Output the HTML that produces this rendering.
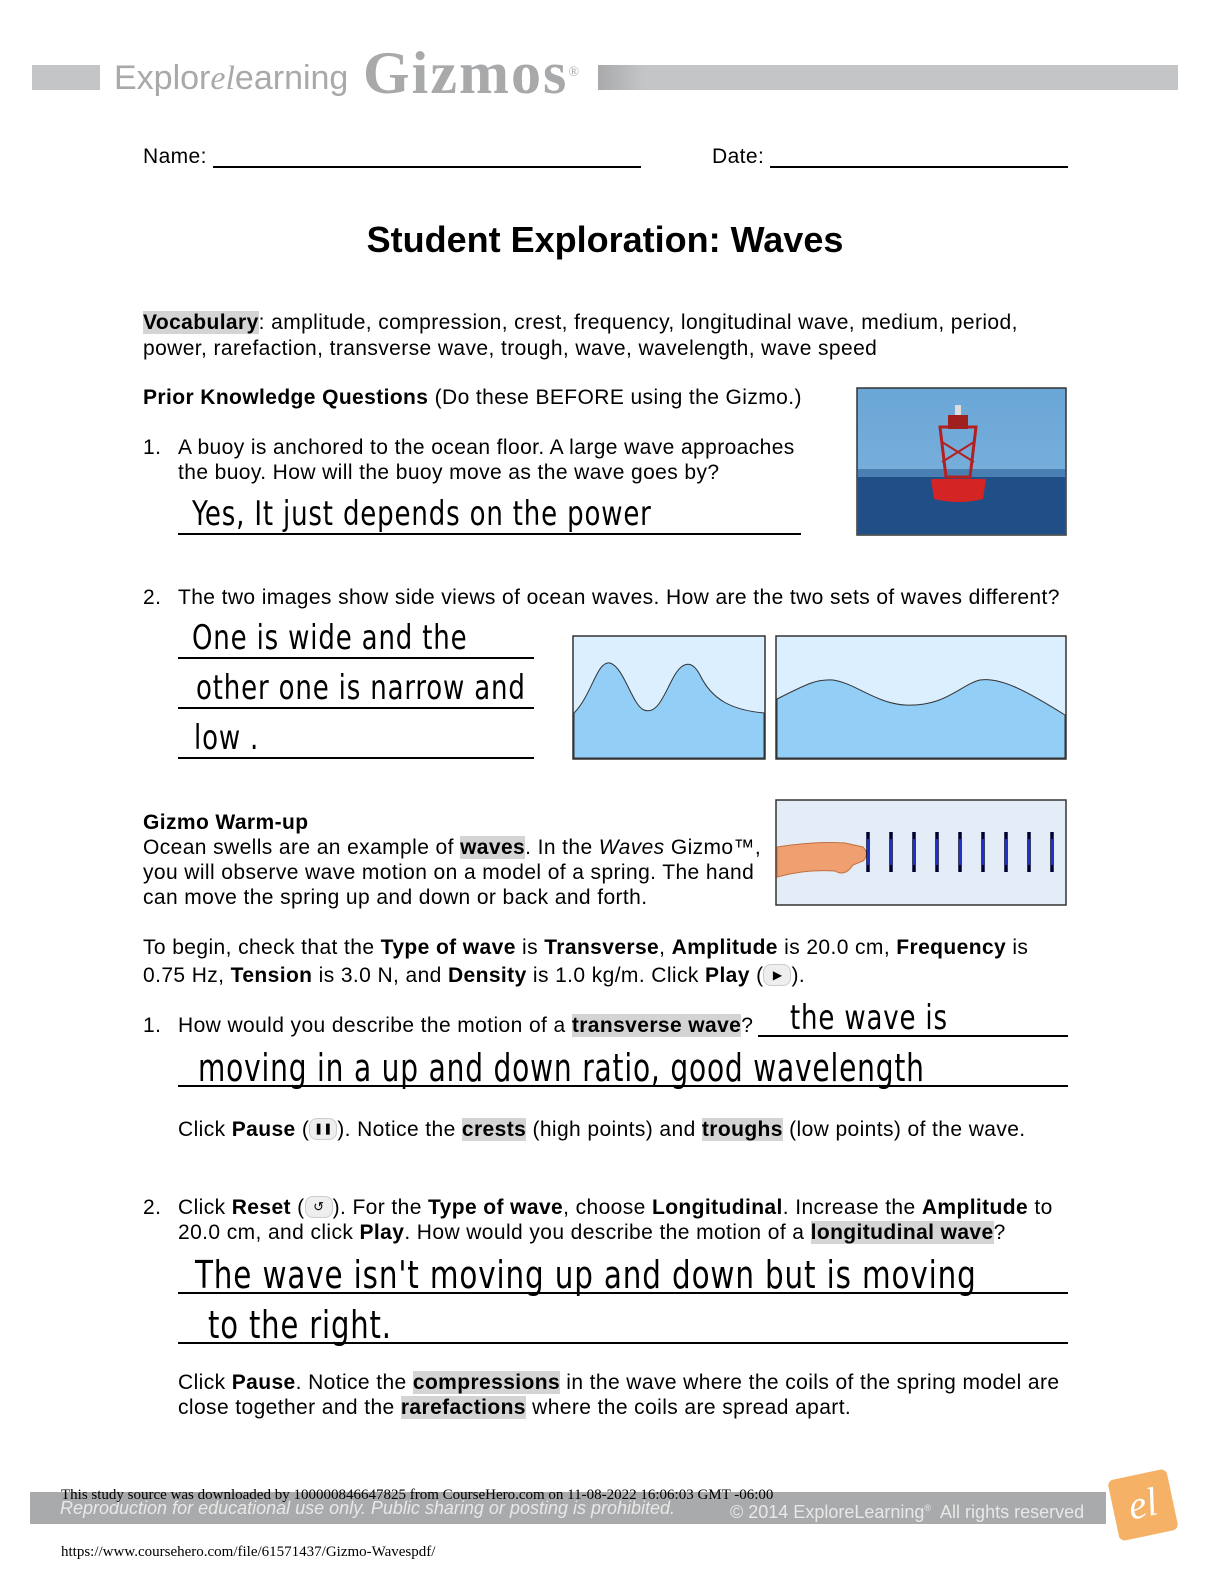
<!DOCTYPE html>
<html><head><meta charset="utf-8"><style>
body{margin:0;background:#fff;}
#p{position:relative;width:1224px;height:1586px;overflow:hidden;font-family:"Liberation Sans",Arial,sans-serif;font-size:21px;letter-spacing:0.4px;color:#000;}
.t{position:absolute;white-space:nowrap;line-height:24px;}
.l{position:absolute;height:2px;background:#000;}
.h{background:#d4d4d4;}
.hw{position:absolute;white-space:nowrap;font-family:"DejaVu Sans Condensed","Liberation Sans Narrow","Liberation Sans",sans-serif;font-size:34px;line-height:40px;transform-origin:left center;transform:scaleX(0.85);font-weight:300;letter-spacing:1px;}
.b{display:inline-block;width:26px;height:20px;border-radius:8px;background:#eee;border:1px solid #ccc;font-size:12px;text-align:center;line-height:20px;vertical-align:top;letter-spacing:0}
</style></head><body><div id="p">
<div style="position:absolute;left:32px;top:65px;width:68px;height:25px;background:#c4c5c7"></div>
<div class="t" style="left:114px;top:58px;font-size:34px;line-height:40px;color:#a8a9ab;letter-spacing:0">Explor<span style="font-family:'Liberation Serif',serif;font-style:italic">el</span>earning</div>
<div class="t" style="left:363px;top:40px;font-family:'Liberation Serif',serif;font-weight:bold;font-size:60px;line-height:66px;color:#a8a9ab;letter-spacing:2px">Gizmos<span style="font-size:14px;vertical-align:top;font-weight:normal">®</span></div>
<div style="position:absolute;left:598px;top:65px;width:580px;height:25px;background:linear-gradient(90deg,#a8a9ab,#c4c5c7 8%,#c4c5c7)"></div>
<div class="t" style="left:143px;top:145px">Name:</div><div class="l" style="left:213px;top:166px;width:428px"></div>
<div class="t" style="left:712px;top:145px">Date:</div><div class="l" style="left:770px;top:166px;width:298px"></div>
<div class="t" style="left:0;width:1210px;text-align:center;top:220px;font-size:36px;line-height:40px;font-weight:bold;letter-spacing:0">Student Exploration: Waves</div>
<div class="t" style="left:143px;top:311px"><b class="h">Vocabulary</b>: amplitude, compression, crest, frequency, longitudinal wave, medium, period,</div>
<div class="t" style="left:143px;top:337px">power, rarefaction, transverse wave, trough, wave, wavelength, wave speed</div>
<div class="t" style="left:143px;top:386px"><b>Prior Knowledge Questions</b> (Do these BEFORE using the Gizmo.)</div>
<div class="t" style="left:143px;top:436px">1.</div>
<div class="t" style="left:178px;top:436px">A buoy is anchored to the ocean floor. A large wave approaches</div>
<div class="t" style="left:178px;top:461px">the buoy. How will the buoy move as the wave goes by?</div>
<div class="hw" style="left:192px;top:494px">Yes, It just depends on the power</div>
<div class="l" style="left:178px;top:533px;width:623px"></div>
<svg style="position:absolute;left:856px;top:387px" width="211" height="149">
<defs><linearGradient id="s" x1="0" y1="0" x2="0" y2="1"><stop offset="0" stop-color="#6aa6d6"/><stop offset="1" stop-color="#7fb4de"/></linearGradient></defs>
<rect x="1" y="1" width="209" height="147" fill="url(#s)" stroke="#333" stroke-width="1.5"/>
<rect x="2" y="82" width="207" height="65" fill="#1f4f86"/>
<rect x="2" y="82" width="207" height="8" fill="#4a7fb4"/>
<path d="M84 40 L120 40 L114 90 L90 90Z" fill="none" stroke="#b32020" stroke-width="3"/>
<path d="M86 55 L118 75 M118 55 L86 75" stroke="#b32020" stroke-width="2"/>
<rect x="92" y="28" width="20" height="14" fill="#a02020"/>
<rect x="99" y="18" width="6" height="10" fill="#ddd"/>
<path d="M75 92 L130 92 L127 112 Q103 118 78 112Z" fill="#d42424"/>
</svg>
<div class="t" style="left:143px;top:586px">2.</div>
<div class="t" style="left:178px;top:586px">The two images show side views of ocean waves. How are the two sets of waves different?</div>
<div class="hw" style="left:192px;top:618px">One is wide and the</div>
<div class="hw" style="left:196px;top:668px">other one is narrow and</div>
<div class="hw" style="left:194px;top:718px">low .</div>
<div class="l" style="left:178px;top:657px;width:356px"></div>
<div class="l" style="left:178px;top:707px;width:356px"></div>
<div class="l" style="left:178px;top:757px;width:356px"></div>
<svg style="position:absolute;left:572px;top:635px" width="195" height="126">
<rect x="1" y="1" width="192" height="123" fill="#dcefff" stroke="#333" stroke-width="1.5"/>
<path d="M2 78 C20 60 25 25 38 28 C52 32 60 70 72 75 C85 80 92 60 100 45 C110 25 120 25 128 40 C140 65 160 75 192 78 L192 123 L2 123Z" fill="#93cef7" stroke="#333" stroke-width="1"/>
</svg>
<svg style="position:absolute;left:775px;top:635px" width="292" height="126">
<rect x="1" y="1" width="290" height="123" fill="#dcefff" stroke="#333" stroke-width="1.5"/>
<path d="M2 64 C30 50 40 44 58 45 C80 48 100 68 130 70 C170 72 185 50 205 45 C225 42 250 55 290 80 L290 123 L2 123Z" fill="#93cef7" stroke="#333" stroke-width="1"/>
</svg>
<div class="t" style="left:143px;top:811px"><b>Gizmo Warm-up</b></div>
<div class="t" style="left:143px;top:836px">Ocean swells are an example of <b class="h">waves</b>. In the <i>Waves</i> Gizmo™,</div>
<div class="t" style="left:143px;top:861px">you will observe wave motion on a model of a spring. The hand</div>
<div class="t" style="left:143px;top:886px">can move the spring up and down or back and forth.</div>
<svg style="position:absolute;left:775px;top:799px" width="292" height="108">
<rect x="1" y="1" width="290" height="105" fill="#e4edf7" stroke="#333" stroke-width="1.5"/>
<path d="M2 48 Q40 42 70 44 L88 48 Q95 55 88 62 L78 66 Q70 78 60 72 Q30 70 2 78Z" fill="#f0a070" stroke="#c07040" stroke-width="1"/>
<g stroke="#000030" stroke-width="3.5">
<line x1="93" y1="33" x2="93" y2="73"/><line x1="116" y1="33" x2="116" y2="73"/><line x1="139" y1="33" x2="139" y2="73"/><line x1="162" y1="33" x2="162" y2="73"/><line x1="185" y1="33" x2="185" y2="73"/><line x1="208" y1="33" x2="208" y2="73"/><line x1="231" y1="33" x2="231" y2="73"/><line x1="254" y1="33" x2="254" y2="73"/><line x1="277" y1="33" x2="277" y2="73"/></g>
<g stroke="#2a40ff" stroke-width="1.5"><line x1="93" y1="40" x2="93" y2="66"/><line x1="116" y1="40" x2="116" y2="66"/><line x1="139" y1="40" x2="139" y2="66"/><line x1="162" y1="40" x2="162" y2="66"/><line x1="185" y1="40" x2="185" y2="66"/><line x1="208" y1="40" x2="208" y2="66"/><line x1="231" y1="40" x2="231" y2="66"/><line x1="254" y1="40" x2="254" y2="66"/><line x1="277" y1="40" x2="277" y2="66"/></g>
</svg>
<div class="t" style="left:143px;top:936px">To begin, check that the <b>Type of wave</b> is <b>Transverse</b>, <b>Amplitude</b> is 20.0 cm, <b>Frequency</b> is</div>
<div class="t" style="left:143px;top:964px">0.75 Hz, <b>Tension</b> is 3.0 N, and <b>Density</b> is 1.0 kg/m. Click <b>Play</b> (<span class="b">▶</span>).</div>
<div class="t" style="left:143px;top:1014px">1.</div>
<div class="t" style="left:178px;top:1014px">How would you describe the motion of a <b class="h">transverse wave</b>?</div>
<div class="hw" style="left:790px;top:998px">the wave is</div>
<div class="l" style="left:758px;top:1035px;width:310px"></div>
<div class="hw" style="left:198px;top:1048px;font-size:38px;transform:scaleX(0.82)">moving in a up and down ratio, good wavelength</div>
<div class="l" style="left:178px;top:1085px;width:890px"></div>
<div class="t" style="left:178px;top:1118px">Click <b>Pause</b> (<span class="b" style="font-size:11px">❚❚</span>). Notice the <b class="h">crests</b> (high points) and <b class="h">troughs</b> (low points) of the wave.</div>
<div class="t" style="left:143px;top:1196px">2.</div>
<div class="t" style="left:178px;top:1196px">Click <b>Reset</b> (<span class="b" style="font-size:13px">↺</span>). For the <b>Type of wave</b>, choose <b>Longitudinal</b>. Increase the <b>Amplitude</b> to</div>
<div class="t" style="left:178px;top:1221px">20.0 cm, and click <b>Play</b>. How would you describe the motion of a <b class="h">longitudinal wave</b>?</div>
<div class="hw" style="left:195px;top:1255px;font-size:38px;transform:scaleX(0.86)">The wave isn't moving up and down but is moving</div>
<div class="l" style="left:178px;top:1292px;width:890px"></div>
<div class="hw" style="left:208px;top:1305px;font-size:38px">to the right.</div>
<div class="l" style="left:178px;top:1342px;width:890px"></div>
<div class="t" style="left:178px;top:1371px">Click <b>Pause</b>. Notice the <b class="h">compressions</b> in the wave where the coils of the spring model are</div>
<div class="t" style="left:178px;top:1396px">close together and the <b class="h">rarefactions</b> where the coils are spread apart.</div>
<div style="position:absolute;left:30px;top:1492px;width:1076px;height:32px;background:#a9aaac"></div>
<div class="t" style="left:60px;top:1497px;font-size:18px;line-height:22px;color:#e8e8e8;font-style:italic;letter-spacing:0">Reproduction for educational use only. Public sharing or posting is prohibited.</div>
<div class="t" style="left:730px;top:1497px;font-size:18px;line-height:22px;color:#e8e8e8;letter-spacing:0">© 2014 ExploreLearning<sup style="font-size:9px">®</sup>&nbsp; All rights reserved</div>
<div class="t" style="left:61px;top:1486px;font-family:'Liberation Serif',serif;font-size:15px;line-height:18px;letter-spacing:0">This study source was downloaded by 100000846647825 from CourseHero.com on 11-08-2022 16:06:03 GMT -06:00</div>
<div style="position:absolute;left:1113px;top:1474px;width:60px;height:62px;background:#f5b266;border-radius:6px;transform:rotate(-12deg);color:#fff;font-family:'Liberation Serif',serif;font-style:italic;font-size:40px;line-height:60px;text-align:center;letter-spacing:0">el</div>
<div class="t" style="left:61px;top:1543px;font-family:'Liberation Serif',serif;font-size:15px;line-height:18px;letter-spacing:0">https://www.coursehero.com/file/61571437/Gizmo-Wavespdf/</div>
</div></body></html>
